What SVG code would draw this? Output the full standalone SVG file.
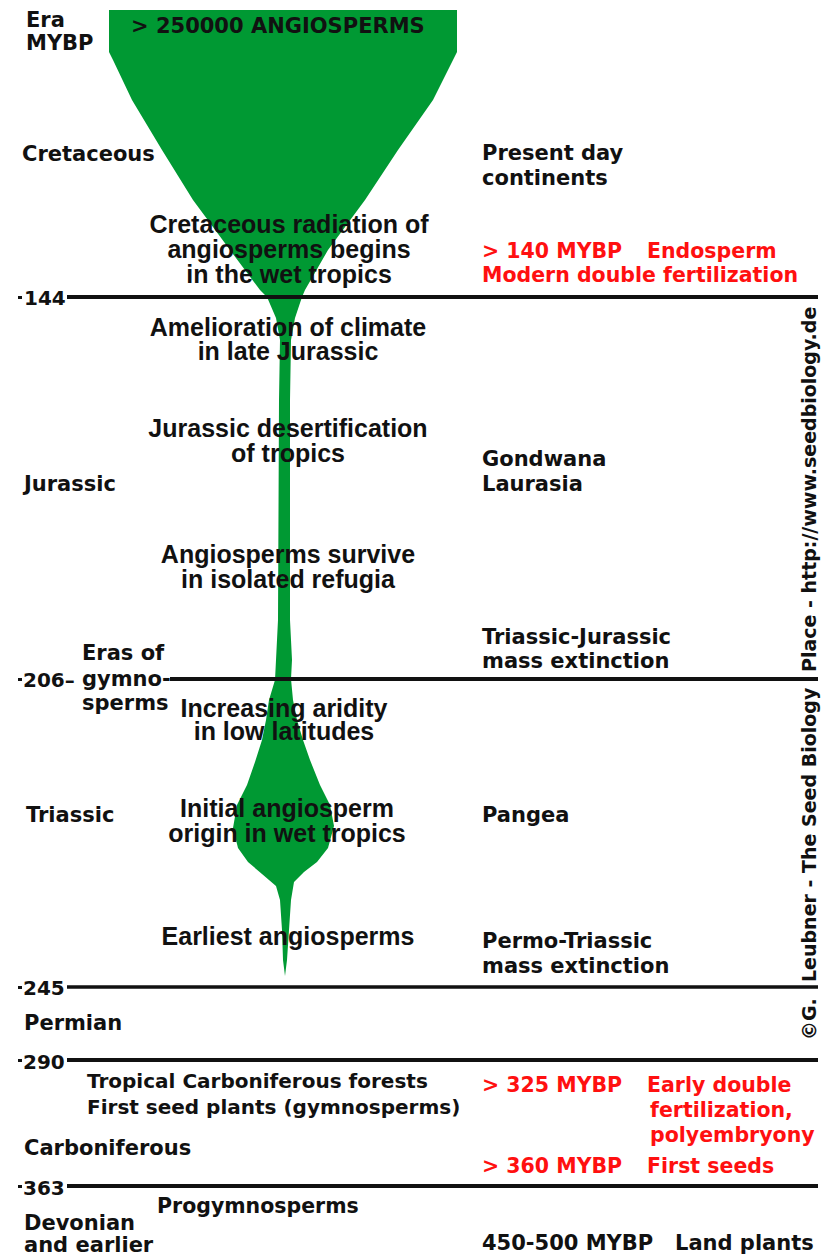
<svg xmlns="http://www.w3.org/2000/svg" width="831" height="1255" viewBox="0 0 831 1255">
<style>
.era{font-family:"DejaVu Sans",sans-serif;font-weight:bold;font-size:21px;fill:#111}
.num{font-family:"DejaVu Sans",sans-serif;font-weight:bold;font-size:20px;fill:#111}
.ctr{font-family:"Liberation Sans",Arial,sans-serif;font-weight:bold;font-size:25px;fill:#111;text-anchor:middle}
.red{font-family:"DejaVu Sans",sans-serif;font-weight:bold;font-size:20.5px;fill:#ff1010}
.vert{font-family:"DejaVu Sans",sans-serif;font-weight:bold;font-size:19px;fill:#111}
.bound{stroke:#111;stroke-width:4;fill:none}
.tick{fill:#111}
</style>
<rect width="831" height="1255" fill="#fff"/>
<g id="angiosperm-lineage">
<path fill="#009933" d="M109,10 L457,10 L457,52 L453,60 L433,100 L398,150 L365,200 L328,250 L305,290 L302,297 L295,318 L291,340 L290,400 L290,620 L292,660 L291,679 L293,700 L297,720 L303,740 L310,760 L320,785 L330,805 L334,826 L328,848 L317,862 L304,872 L294,882 L291,900 L289,930 L287,960 L285,976 L283,960 L282,930 L280,900 L276,886 L262,874 L248,862 L238,848 L233,828 L237,805 L247,785 L255,762 L262,740 L266,720 L269,700 L275,680 L276,660 L278,620 L279,400 L280,340 L276,318 L267,297 L260,290 L230,250 L193,200 L162,150 L132,100 L113,60 L109,52 Z"/>
<text class="era" x="131" y="33">&gt; 250000 ANGIOSPERMS</text>
</g>
<g id="axis-header">
<text class="era" x="26" y="27">Era</text>
<text class="era" x="26" y="50">MYBP</text>
</g>
<g id="boundaries">
<line class="bound" x1="67" y1="297" x2="818" y2="297"/>
<line class="bound" x1="170" y1="679" x2="818" y2="679"/>
<line class="bound" x1="67" y1="987" x2="818" y2="987" style="stroke-width:3.5"/>
<line class="bound" x1="67" y1="1060" x2="818" y2="1060"/>
<line class="bound" x1="67" y1="1186" x2="818" y2="1186"/>
<rect class="tick" x="18" y="296" width="4" height="3"/>
<rect class="tick" x="18" y="678" width="4" height="3"/>
<rect class="tick" x="18" y="986" width="4" height="3"/>
<rect class="tick" x="18" y="1059" width="4" height="3"/>
<rect class="tick" x="18" y="1185" width="4" height="3"/>
</g>
<g id="ages">
<text class="num" x="24" y="305">144</text>
<text class="num" x="23" y="687">206–</text>
<text class="num" x="23" y="995">245</text>
<text class="num" x="23" y="1069">290</text>
<text class="num" x="23" y="1195">363</text>
</g>
<g id="eras">
<text class="era" x="22" y="161">Cretaceous</text>
<text class="era" x="24" y="491">Jurassic</text>
<text class="era" x="82" y="660">Eras of</text>
<text class="era" x="82" y="686">gymno-</text>
<text class="era" x="82" y="710">sperms</text>
<text class="era" x="26" y="822">Triassic</text>
<text class="era" x="24" y="1030">Permian</text>
<text class="era" x="24" y="1155">Carboniferous</text>
<text class="era" x="24" y="1230">Devonian</text>
<text class="era" x="24" y="1252">and earlier</text>
</g>
<g id="events">
<text class="ctr" x="289" y="233">Cretaceous radiation of</text>
<text class="ctr" x="289" y="258">angiosperms begins</text>
<text class="ctr" x="289" y="283">in the wet tropics</text>
<text class="ctr" x="288" y="336">Amelioration of climate</text>
<text class="ctr" x="288" y="360">in late Jurassic</text>
<text class="ctr" x="288" y="437">Jurassic desertification</text>
<text class="ctr" x="288" y="462">of tropics</text>
<text class="ctr" x="288" y="563">Angiosperms survive</text>
<text class="ctr" x="288" y="588">in isolated refugia</text>
<text class="ctr" x="284" y="717">Increasing aridity</text>
<text class="ctr" x="284" y="740">in low latitudes</text>
<text class="ctr" x="287" y="817">Initial angiosperm</text>
<text class="ctr" x="287" y="842">origin in wet tropics</text>
<text class="ctr" x="288" y="945">Earliest angiosperms</text>
<text class="num" x="87" y="1088">Tropical Carboniferous forests</text>
<text class="num" x="87" y="1114">First seed plants (gymnosperms)</text>
<text class="era" x="157" y="1213" style="font-size:20.5px">Progymnosperms</text>
</g>
<g id="geography">
<text class="era" x="482" y="160">Present day</text>
<text class="era" x="482" y="185">continents</text>
<text class="era" x="482" y="466">Gondwana</text>
<text class="era" x="482" y="491">Laurasia</text>
<text class="era" x="482" y="644">Triassic-Jurassic</text>
<text class="era" x="482" y="668">mass extinction</text>
<text class="era" x="482" y="822">Pangea</text>
<text class="era" x="482" y="948">Permo-Triassic</text>
<text class="era" x="482" y="973">mass extinction</text>
<text class="era" x="482" y="1250">450-500 MYBP</text>
<text class="era" x="675" y="1250">Land plants</text>
</g>
<g id="seed-milestones">
<text class="red" x="482" y="258">&gt; 140 MYBP</text>
<text class="red" x="647" y="258">Endosperm</text>
<text class="red" x="482" y="282">Modern double fertilization</text>
<text class="red" x="482" y="1092">&gt; 325 MYBP</text>
<text class="red" x="647" y="1092">Early double</text>
<text class="red" x="650" y="1117">fertilization,</text>
<text class="red" x="650" y="1142">polyembryony</text>
<text class="red" x="482" y="1173">&gt; 360 MYBP</text>
<text class="red" x="647" y="1173">First seeds</text>
</g>
<g id="credit">
<text class="vert" transform="translate(816,1040) rotate(-90)"><tspan x="0" y="0">©G.</tspan><tspan x="58" y="0">Leubner - The Seed Biology</tspan><tspan x="368" y="0">Place - http://www.seedbiology.de</tspan></text>
</g>
</svg>
